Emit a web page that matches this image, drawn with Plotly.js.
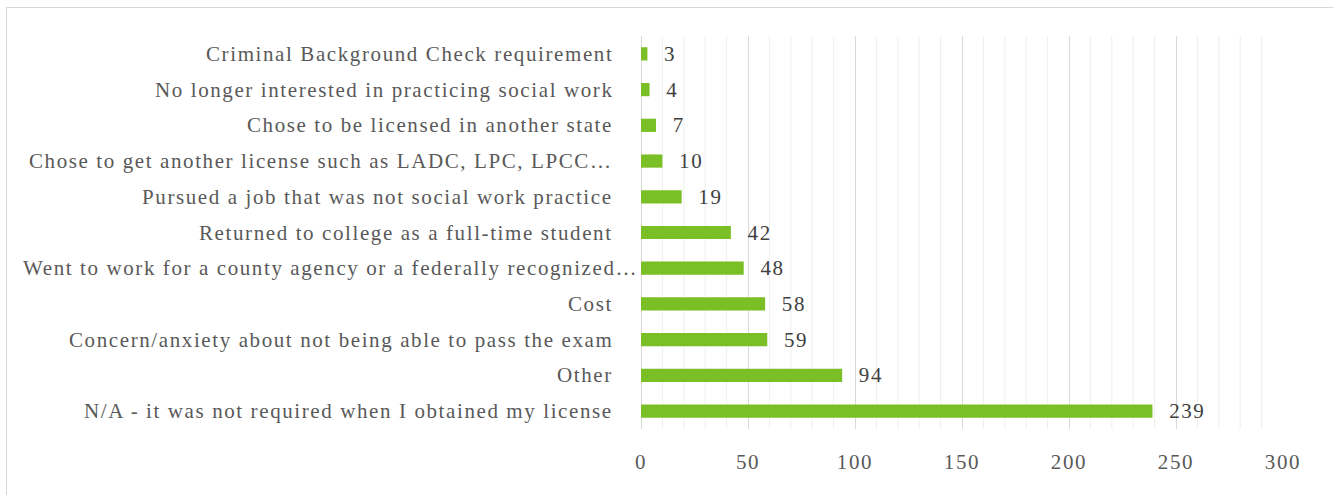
<!DOCTYPE html>
<html><head><meta charset="utf-8">
<script src="https://cdn.plot.ly/plotly-3.0.1.min.js"></script>
<style>html,body{margin:0;padding:0;background:#fff}#chart{width:1333px;height:495px}
svg text{letter-spacing:1.6px}
#frame{position:absolute;left:6px;top:7px;width:1340px;height:500px;border:1px solid #d9d9d9;pointer-events:none}</style>
</head><body><div id="chart"></div><div id="frame"></div>
<script>
const categories = [
  "N/A - it was not required when I obtained my license",
  "Other",
  "Concern/anxiety about not being able to pass the exam",
  "Cost",
  "Went to work for a county agency or a federally recognized…",
  "Returned to college as a full-time student",
  "Pursued a job that was not social work practice",
  "Chose to get another license such as LADC, LPC, LPCC…",
  "Chose to be licensed in another state",
  "No longer interested in practicing social work",
  "Criminal Background Check requirement"
];
const counts = [239, 94, 59, 58, 48, 42, 19, 10, 7, 4, 3];
const xTicks = [0, 50, 100, 150, 200, 250, 300];
const labelShift = [-26, -26, -26, -26, -1, -26, -26, -26, -26, -26, -26];

const FONT = "Liberation Serif, Times New Roman, serif";
const minorLines = [];
for (let v = 10; v < 300; v += 10) {
  if (v % 50 !== 0) minorLines.push(v);
}
const shapes = minorLines.map(v => ({
  type: 'line', xref: 'x', yref: 'paper', x0: v, x1: v, y0: 0, y1: 1,
  line: {color: '#efefef', width: 1}, layer: 'below'
}));
const annotations = categories.map((c, i) => ({
  xref: 'paper', yref: 'y', x: 0, y: c, text: c, showarrow: false,
  xanchor: 'right', yanchor: 'middle', xshift: labelShift[i],
  font: {family: FONT, size: 21, color: '#595959'}
}));

const trace = {
  type: 'bar', orientation: 'h', x: counts, y: categories,
  marker: {color: '#7abf25'}, width: 0.37,
  text: counts.map(v => '\u00a0\u00a0' + v), textposition: 'outside', cliponaxis: false,
  constraintext: 'none',
  textfont: {family: FONT, size: 21, color: '#404040'},
  hoverinfo: 'none'
};
const layout = {
  width: 1333, height: 495,
  margin: {l: 641, r: 50, t: 36, b: 66},
  paper_bgcolor: '#fff', plot_bgcolor: '#fff',
  showlegend: false,
  bargap: 0.63,
  xaxis: {
    range: [0, 300], tickvals: xTicks, ticktext: xTicks.map(String),
    showgrid: true, gridcolor: '#d9d9d9', gridwidth: 1,
    zeroline: true, zerolinecolor: '#d9d9d9', zerolinewidth: 1,
    showline: false, ticks: '', ticklabelstandoff: 18,
    tickfont: {family: FONT, size: 21, color: '#595959'}, fixedrange: true
  },
  yaxis: {
    type: 'category', categoryorder: 'array', categoryarray: categories,
    showticklabels: false, showgrid: false, zeroline: false, ticks: '',
    range: [-0.5, categories.length - 0.5], fixedrange: true
  },
  shapes: shapes, annotations: annotations
};
Plotly.newPlot('chart', [trace], layout, {displayModeBar: false, staticPlot: true});
</script></body></html>
